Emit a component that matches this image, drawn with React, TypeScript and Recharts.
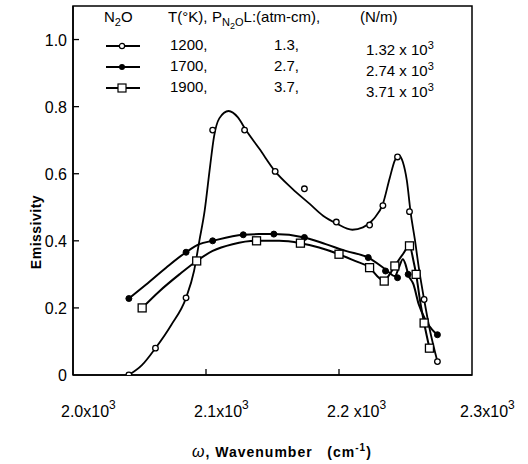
import React from 'react';
import {
  ComposedChart,
  Line,
  Scatter,
  XAxis,
  YAxis,
  ReferenceArea,
} from 'recharts';

// Wavenumber ticks (cm^-1) and labels
const xTicks = [2000, 2100, 2200, 2300];
const xTickLabels = ['2.0x10', '2.1x10', '2.2 x10', '2.3x10'];
const yTicks = [0, 0.2, 0.4, 0.6, 0.8, 1.0];

// Faired curves as drawn in the figure
const curve1200 = [
  { x: 2042, y: 0.0 }, { x: 2052, y: 0.03 }, { x: 2062, y: 0.08 }, { x: 2074, y: 0.15 },
  { x: 2085, y: 0.23 }, { x: 2091, y: 0.31 }, { x: 2095, y: 0.4 }, { x: 2099, y: 0.49 },
  { x: 2103, y: 0.62 }, { x: 2106, y: 0.71 }, { x: 2110, y: 0.765 }, { x: 2117, y: 0.787 },
  { x: 2124, y: 0.768 }, { x: 2130, y: 0.73 }, { x: 2140, y: 0.675 }, { x: 2152, y: 0.607 },
  { x: 2165, y: 0.555 }, { x: 2178, y: 0.51 }, { x: 2188, y: 0.475 }, { x: 2198, y: 0.452 },
  { x: 2210, y: 0.433 }, { x: 2218, y: 0.44 }, { x: 2226, y: 0.465 }, { x: 2233, y: 0.51 },
  { x: 2238, y: 0.585 }, { x: 2242, y: 0.64 }, { x: 2245, y: 0.655 }, { x: 2248, y: 0.635 },
  { x: 2251, y: 0.58 }, { x: 2254, y: 0.48 }, { x: 2257, y: 0.405 }, { x: 2260, y: 0.32 },
  { x: 2264, y: 0.225 }, { x: 2268, y: 0.14 }, { x: 2274, y: 0.04 },
];
const curve1700 = [
  { x: 2042, y: 0.228 }, { x: 2055, y: 0.27 }, { x: 2070, y: 0.32 }, { x: 2085, y: 0.366 },
  { x: 2095, y: 0.39 }, { x: 2105, y: 0.4 }, { x: 2128, y: 0.418 }, { x: 2140, y: 0.42 },
  { x: 2151, y: 0.42 }, { x: 2174, y: 0.41 }, { x: 2190, y: 0.39 }, { x: 2205, y: 0.37 },
  { x: 2222, y: 0.35 }, { x: 2235, y: 0.315 }, { x: 2242, y: 0.295 }, { x: 2245, y: 0.32 },
  { x: 2248, y: 0.345 }, { x: 2250, y: 0.33 }, { x: 2252, y: 0.3 }, { x: 2256, y: 0.27 },
  { x: 2260, y: 0.21 }, { x: 2265, y: 0.165 }, { x: 2270, y: 0.135 }, { x: 2274, y: 0.12 },
];
const curve1900 = [
  { x: 2052, y: 0.2 }, { x: 2065, y: 0.25 }, { x: 2080, y: 0.3 }, { x: 2093, y: 0.34 },
  { x: 2105, y: 0.37 }, { x: 2120, y: 0.39 }, { x: 2138, y: 0.4 }, { x: 2155, y: 0.4 },
  { x: 2171, y: 0.393 }, { x: 2185, y: 0.38 }, { x: 2200, y: 0.36 }, { x: 2212, y: 0.34 },
  { x: 2223, y: 0.32 }, { x: 2230, y: 0.29 }, { x: 2234, y: 0.28 }, { x: 2238, y: 0.3 },
  { x: 2242, y: 0.325 }, { x: 2248, y: 0.36 }, { x: 2253, y: 0.385 }, { x: 2256, y: 0.34 },
  { x: 2258, y: 0.3 }, { x: 2261, y: 0.22 }, { x: 2264, y: 0.155 }, { x: 2268, y: 0.08 },
];

// Measured points
const points1200 = [
  { x: 2042, y: 0.0 }, { x: 2062, y: 0.08 }, { x: 2085, y: 0.23 }, { x: 2105, y: 0.73 },
  { x: 2129, y: 0.73 }, { x: 2152, y: 0.607 }, { x: 2174, y: 0.555 }, { x: 2198, y: 0.456 },
  { x: 2223, y: 0.447 }, { x: 2233, y: 0.505 }, { x: 2244, y: 0.65 }, { x: 2253, y: 0.487 },
  { x: 2264, y: 0.225 }, { x: 2274, y: 0.04 },
];
const points1700 = [
  { x: 2042, y: 0.228 }, { x: 2085, y: 0.366 }, { x: 2105, y: 0.4 }, { x: 2128, y: 0.418 },
  { x: 2151, y: 0.42 }, { x: 2174, y: 0.41 }, { x: 2222, y: 0.35 }, { x: 2235, y: 0.31 },
  { x: 2244, y: 0.29 }, { x: 2252, y: 0.3 }, { x: 2274, y: 0.12 },
];
const points1900 = [
  { x: 2052, y: 0.2 }, { x: 2093, y: 0.34 }, { x: 2138, y: 0.4 }, { x: 2171, y: 0.393 },
  { x: 2200, y: 0.36 }, { x: 2223, y: 0.32 }, { x: 2234, y: 0.28 }, { x: 2242, y: 0.325 },
  { x: 2253, y: 0.385 }, { x: 2258, y: 0.3 }, { x: 2264, y: 0.155 }, { x: 2268, y: 0.08 },
];

// Legend rows: temperature, path length, pressure
const legendTemps = ['1200,', '1700,', '1900,'];
const legendPL = ['1.3,', '2.7,', '3.7,'];
const legendPressure = ['1.32 x 10', '2.74 x 10', '3.71 x 10'];

const FONT = '"Liberation Sans", Arial, sans-serif';

const OpenCircle = (props: any) => (
  <circle cx={props.cx} cy={props.cy} r={2.8} fill="#fff" stroke="#000" strokeWidth={1.3} />
);
const FilledDot = (props: any) => (
  <circle cx={props.cx} cy={props.cy} r={3} fill="#000" stroke="#000" />
);
const OpenSquare = (props: any) => (
  <rect x={props.cx - 4} y={props.cy - 4} width={8} height={8} fill="#fff" stroke="#000" strokeWidth={1.3} />
);

const YTick = ({ x, y, payload }: any) => {
  const v = payload.value;
  return (
    <g>
      {v > 0 && <line x1={x + 4} x2={x + 10} y1={y} y2={y} stroke="#000" strokeWidth={1.3} />}
      <text x={x - 2} y={y} dy={6} textAnchor="end" fontSize={16} fontFamily={FONT} fill="#000">
        {v === 0 ? '0' : v.toFixed(1)}
      </text>
    </g>
  );
};

const XTick = ({ x, y, payload, index }: any) => {
  const v = payload.value;
  const inner = v > 2000 && v < 2300;
  return (
    <g>
      {inner && <line x1={x} x2={x} y1={y - 4} y2={y - 10} stroke="#000" strokeWidth={1.3} />}
      <text x={x - 12} y={y + 38} textAnchor="start" fontSize={16} fontFamily={FONT} fill="#000">
        <tspan>{xTickLabels[index]}</tspan>
        <tspan dy={-8} fontSize={12}>3</tspan>
      </text>
    </g>
  );
};

function LegendSample({ kind }: { kind: number }) {
  return (
    <svg width={34} height={10} style={{ display: 'block' }}>
      <line x1={0} x2={34} y1={5} y2={5} stroke="#000" strokeWidth={2} />
      {kind === 0 && <circle cx={16} cy={5} r={2.6} fill="#fff" stroke="#000" strokeWidth={1.2} />}
      {kind === 1 && <circle cx={16} cy={5} r={3} fill="#000" />}
      {kind === 2 && <rect x={12} y={1} width={8} height={8} fill="#fff" stroke="#000" strokeWidth={1.2} />}
    </svg>
  );
}

export default function App() {
  const txt: React.CSSProperties = {
    position: 'absolute',
    fontFamily: FONT,
    fontSize: 15,
    color: '#000',
    whiteSpace: 'nowrap',
    lineHeight: '16px',
  };
  const rowY = [37, 58, 79];

  return (
    <div style={{ position: 'absolute', left: 0, top: 0, width: 528, height: 464, background: '#fff', overflow: 'hidden' }}>
      <ComposedChart
        width={528}
        height={464}
        margin={{ top: 6, right: 56, bottom: 49, left: 0 }}
      >
        <XAxis
          type="number"
          dataKey="x"
          domain={[2000, 2300]}
          ticks={xTicks}
          height={40}
          tickSize={0}
          tickMargin={4}
          tick={<XTick />}
          axisLine={{ stroke: '#000', strokeWidth: 1.5 }}
          allowDataOverflow
        />
        <YAxis
          type="number"
          dataKey="y"
          domain={[0, 1.1]}
          ticks={yTicks}
          width={73}
          tickSize={0}
          tickMargin={4}
          tick={<YTick />}
          axisLine={{ stroke: '#000', strokeWidth: 1.5 }}
          allowDataOverflow
        />
        <ReferenceArea x1={2000} x2={2300} y1={0} y2={1.1} fill="none" stroke="#000" strokeWidth={1.5} />

        {/* fitted curves */}
        <Line data={curve1200} dataKey="y" type="monotone" stroke="#000" strokeWidth={1.8} dot={false} isAnimationActive={false} />
        <Line data={curve1700} dataKey="y" type="monotone" stroke="#000" strokeWidth={2} dot={false} isAnimationActive={false} />
        <Line data={curve1900} dataKey="y" type="monotone" stroke="#000" strokeWidth={2} dot={false} isAnimationActive={false} />

        {/* measured points */}
        <Scatter data={points1700} dataKey="y" shape={FilledDot} isAnimationActive={false} />
        <Scatter data={points1900} dataKey="y" shape={OpenSquare} isAnimationActive={false} />
        <Scatter data={points1200} dataKey="y" shape={OpenCircle} isAnimationActive={false} />
      </ComposedChart>

      {/* legend block */}
      <div style={{ ...txt, left: 104, top: 9 }}>
        N<sub style={{ fontSize: 11 }}>2</sub>O
      </div>
      <div style={{ ...txt, left: 168, top: 9 }}>T(°K),</div>
      <div style={{ ...txt, left: 212, top: 9 }}>
        P<sub style={{ fontSize: 11 }}>N<sub style={{ fontSize: 9 }}>2</sub>O</sub>L:(atm-cm),
      </div>
      <div style={{ ...txt, left: 360, top: 9 }}>(N/m)</div>

      {legendTemps.map((t, i) => (
        <React.Fragment key={t}>
          <div style={{ position: 'absolute', left: 106, top: rowY[i] + 4 }}>
            <LegendSample kind={i} />
          </div>
          <div style={{ ...txt, left: 170, top: rowY[i] }}>{t}</div>
          <div style={{ ...txt, left: 274, top: rowY[i] }}>{legendPL[i]}</div>
          <div style={{ ...txt, left: 366, top: rowY[i] }}>
            {legendPressure[i]}
            <sup style={{ fontSize: 11, verticalAlign: 6 }}>3</sup>
          </div>
        </React.Fragment>
      ))}

      {/* axis titles */}
      <div
        style={{
          ...txt,
          fontSize: 14,
          fontWeight: 'bold',
          letterSpacing: 0.5,
          left: 36,
          top: 232,
          transform: 'translate(-50%, -50%) rotate(-90deg)',
        }}
      >
        Emissivity
      </div>
      <div
        style={{
          ...txt,
          fontSize: 14,
          fontWeight: 'bold',
          letterSpacing: 1,
          left: 192,
          top: 438,
          lineHeight: '20px',
        }}
      >
        <span style={{ fontStyle: 'italic', fontWeight: 'normal', fontSize: 16 }}>ω</span>, Wavenumber&nbsp;&nbsp;&nbsp;(cm
        <sup style={{ fontSize: 10, verticalAlign: 6 }}>-1</sup>)
      </div>
    </div>
  );
}
